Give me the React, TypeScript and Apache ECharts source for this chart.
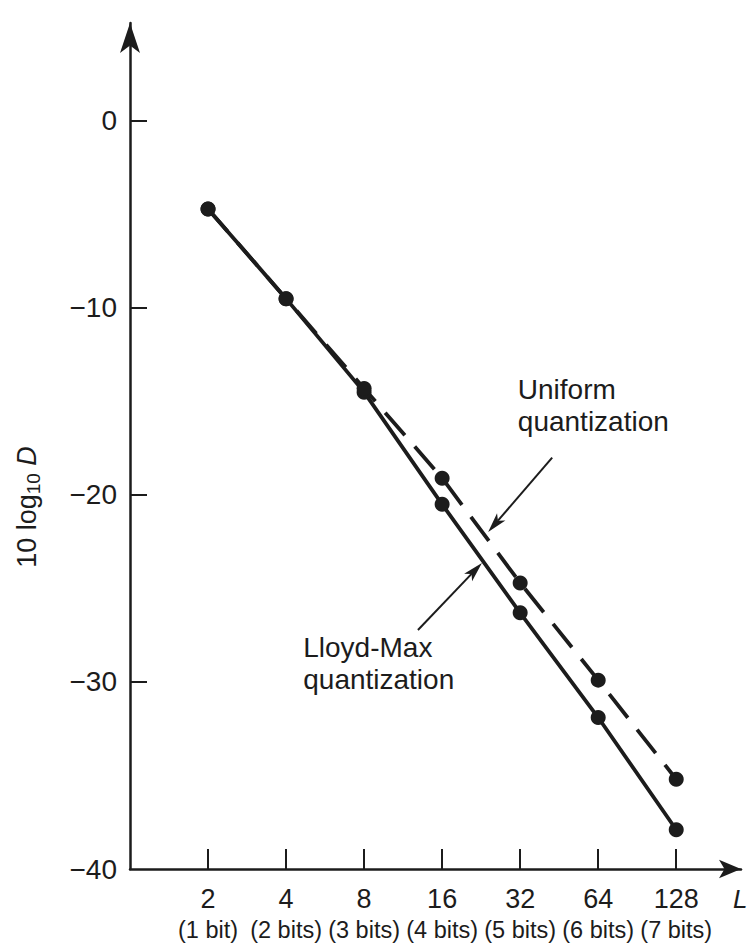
import React, { useEffect, useRef } from 'react';
import * as echarts from 'echarts';

// ---- data ----
const levels = [2, 4, 8, 16, 32, 64, 128];
const bitLabels = ['(1 bit)', '(2 bits)', '(3 bits)', '(4 bits)', '(5 bits)', '(6 bits)', '(7 bits)'];
const uniformDb = [-4.7, -9.5, -14.3, -19.1, -24.7, -29.9, -35.2];
const lloydMaxDb = [-4.7, -9.5, -14.5, -20.5, -26.3, -31.9, -37.9];
const yLabelValues = [-40, -30, -20, -10, 0];
const yTickValues = [-30, -20, -10, 0];

// annotations, in data coordinates (x = log2 L, y = dB)
const uniformNoteText = 'Uniform\nquantization';
const uniformNoteAt = [4.97, -13.5];
const uniformArrow = [[5.41, -18.0], [4.59, -21.98]];
const lloydNoteText = 'Lloyd-Max\nquantization';
const lloydNoteAt = [2.22, -27.3];
const lloydArrow = [[3.69, -27.22], [4.51, -23.64]];

const INK = '#1c1c1c';
const FONT = '"Liberation Sans", Arial, sans-serif';

export default function App() {
  const ref = useRef<HTMLDivElement>(null);
  useEffect(() => {
    document.body.style.margin = '0';
    const chart = echarts.init(ref.current!, undefined, { renderer: 'svg' });
    const xs = levels.map((L) => Math.log2(L));
    const lineStyleAxis = { color: INK, width: 2.5 };
    chart.setOption({
      animation: false,
      backgroundColor: '#ffffff',
      grid: { left: 130, right: 12, top: 23, bottom: 81, containLabel: false },
      xAxis: {
        type: 'value',
        min: 0,
        max: 7.83,
        axisLine: { show: true, onZero: false, symbol: ['none', 'arrow'], symbolSize: [14, 22], lineStyle: lineStyleAxis },
        axisTick: { show: true, inside: true, length: 20, customValues: xs, lineStyle: { color: INK, width: 2 } },
        axisLabel: {
          customValues: xs,
          margin: 14,
          color: INK,
          fontFamily: FONT,
          formatter: (v: number) => {
            const i = xs.findIndex((x) => Math.abs(x - v) < 1e-6);
            return i < 0 ? '' : `{a|${levels[i]}}\n{b|${bitLabels[i]}}`;
          },
          rich: {
            a: { fontSize: 27, lineHeight: 31, color: INK, fontFamily: FONT },
            b: { fontSize: 23.5, lineHeight: 32, color: INK, fontFamily: FONT },
          },
        },
        splitLine: { show: false },
      },
      yAxis: {
        type: 'value',
        min: -40,
        max: 5.24,
        axisLine: { show: true, onZero: false, symbol: ['none', 'arrow'], symbolSize: [15, 30], lineStyle: lineStyleAxis },
        axisTick: { show: true, inside: true, length: 17, customValues: yTickValues, lineStyle: { color: INK, width: 2 } },
        axisLabel: {
          customValues: yLabelValues,
          margin: 13,
          fontSize: 28,
          color: INK,
          fontFamily: FONT,
          formatter: (v: number) => (v < 0 ? '\u2212' + Math.abs(v) : String(v)),
        },
        splitLine: { show: false },
      },
      series: [
        {
          name: 'Lloyd-Max quantization',
          type: 'line',
          data: xs.map((x, i) => [x, lloydMaxDb[i]]),
          symbol: 'circle',
          symbolSize: 15,
          itemStyle: { color: INK },
          lineStyle: { color: INK, width: 3.8 },
          z: 3,
        },
        {
          name: 'Uniform quantization',
          type: 'line',
          data: xs.map((x, i) => [x, uniformDb[i]]),
          symbol: 'circle',
          symbolSize: 15,
          itemStyle: { color: INK },
          lineStyle: { color: INK, width: 3.8, type: [30, 15] },
          z: 3,
        },
      ],
    });

    const px = (p: number[]) => chart.convertToPixel({ xAxisIndex: 0, yAxisIndex: 0 }, p) as number[];
    const arrow = (from: number[], to: number[]) => {
      const a = px(from);
      const b = px(to);
      const dx = b[0] - a[0];
      const dy = b[1] - a[1];
      const len = Math.hypot(dx, dy);
      const ux = dx / len, uy = dy / len;
      const nx = -uy, ny = ux;
      const hl = 20, hw = 5.5;
      const base = [b[0] - ux * hl, b[1] - uy * hl];
      const notch = [b[0] - ux * hl * 0.75, b[1] - uy * hl * 0.75];
      return [
        { type: 'line', shape: { x1: a[0], y1: a[1], x2: notch[0], y2: notch[1] }, style: { stroke: INK, lineWidth: 2 } },
        {
          type: 'polygon',
          shape: { points: [b, [base[0] + nx * hw, base[1] + ny * hw], notch, [base[0] - nx * hw, base[1] - ny * hw]] },
          style: { fill: INK },
        },
      ];
    };
    const note = (text: string, at: number[]) => {
      const p = px(at);
      return {
        type: 'text',
        x: p[0],
        y: p[1],
        style: {
          text,
          fill: INK,
          fontSize: 28,
          fontFamily: FONT,
          lineHeight: 32,
          align: 'left',
          verticalAlign: 'top',
          textAlign: 'left',
          textVerticalAlign: 'top',
        },
      };
    };

    chart.setOption({
      graphic: [
        ...arrow(uniformArrow[0], uniformArrow[1]),
        ...arrow(lloydArrow[0], lloydArrow[1]),
        note(uniformNoteText, uniformNoteAt),
        note(lloydNoteText, lloydNoteAt),
        {
          type: 'text',
          x: 27,
          y: 507,
          rotation: Math.PI / 2,
          style: {
            text: '{n|10 log}{s|10}{n| }{d|D}',
            align: 'center',
            verticalAlign: 'middle',
            textAlign: 'center',
            textVerticalAlign: 'middle',
            rich: {
              n: { fontSize: 27, lineHeight: 32, fill: INK, fontFamily: FONT },
              s: { fontSize: 19, lineHeight: 12, verticalAlign: 'bottom', fill: INK, fontFamily: FONT },
              d: { fontSize: 27, lineHeight: 32, fontStyle: 'italic', fill: INK, fontFamily: FONT },
            },
          },
        },
        {
          type: 'text',
          x: 733,
          y: 899,
          style: {
            text: 'L',
            fill: INK,
            fontSize: 26,
            fontStyle: 'italic',
            fontFamily: FONT,
            align: 'left',
            verticalAlign: 'middle',
            textAlign: 'left',
            textVerticalAlign: 'middle',
          },
        },
      ],
    });
    return () => chart.dispose();
  }, []);
  return <div ref={ref} style={{ position: 'absolute', left: 0, top: 0, width: 753, height: 950 }} />;
}
